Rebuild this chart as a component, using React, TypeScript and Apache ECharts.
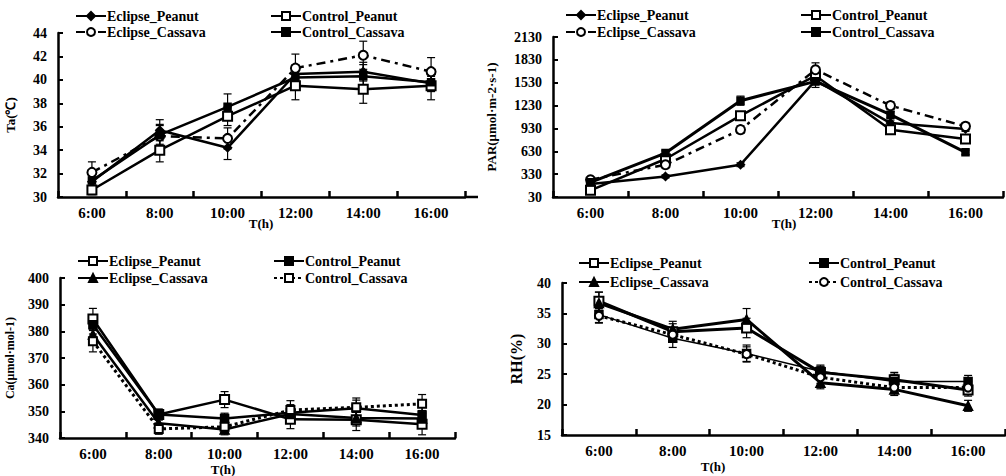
import React, { useEffect, useRef } from 'react';
import * as echarts from 'echarts';

const categories = ['6:00', '8:00', '10:00', '12:00', '14:00', '16:00'];
const seriesNames = ['Eclipse_Peanut', 'Control_Peanut', 'Eclipse_Cassava', 'Control_Cassava'];

// Panel 1: Ta (°C)
const taEclipsePeanut = [31.3, 35.7, 34.2, 40.5, 40.7, 39.7];
const taControlPeanut = [30.6, 34.0, 36.9, 39.5, 39.2, 39.5];
const taEclipseCassava = [32.1, 35.2, 35.0, 41.0, 42.1, 40.7];
const taControlCassava = [31.4, 35.3, 37.7, 40.2, 40.3, 39.8];
const taErrEclipsePeanut = [0.5, 0.9, 1.0, 0.8, 0.8, 0.6];
const taErrControlPeanut = [0.4, 1.0, 0.8, 1.2, 1.2, 1.2];
const taErrEclipseCassava = [0.9, 1.0, 0.9, 1.2, 1.2, 1.2];
const taErrControlCassava = [0.5, 0.8, 1.1, 1.0, 1.0, 0.8];

// Panel 2: PAR
const parEclipsePeanut = [200, 300, 454, 1560, 1000, 922];
const parControlPeanut = [117, 529, 1097, 1622, 914, 791];
const parEclipseCassava = [257, 454, 914, 1701, 1229, 957];
const parControlCassava = [222, 607, 1294, 1548, 1111, 616];
const parErrEclipsePeanut = [20, 20, 25, 60, 40, 30];
const parErrControlPeanut = [20, 30, 50, 80, 40, 40];
const parErrEclipseCassava = [20, 30, 50, 90, 50, 50];
const parErrControlCassava = [20, 30, 60, 80, 40, 30];

// Panel 3: Ca
const caEclipsePeanut = [384.6, 348.8, 354.4, 347.0, 346.8, 345.2];
const caControlPeanut = [382.5, 348.8, 347.3, 349.5, 351.2, 348.6];
const caEclipseCassava = [378.8, 345.5, 343.2, 349.0, 347.5, 347.3];
const caControlCassava = [376.3, 343.4, 344.2, 350.5, 351.5, 352.8];
const caErrEclipsePeanut = [4.0, 2.0, 3.0, 3.5, 4.0, 4.0];
const caErrControlPeanut = [3.5, 2.0, 2.0, 3.0, 3.0, 3.0];
const caErrEclipseCassava = [3.5, 2.0, 2.0, 3.0, 3.0, 3.0];
const caErrControlCassava = [4.0, 2.0, 2.0, 3.5, 3.5, 3.5];

// Panel 4: RH (%)
const rhEclipsePeanut = [37.0, 32.0, 32.6, 25.3, 24.1, 22.4];
const rhControlPeanut = [34.8, 30.9, 28.4, 25.5, 23.8, 23.8];
const rhEclipseCassava = [36.7, 32.4, 34.0, 23.6, 22.5, 19.8];
const rhControlCassava = [34.6, 31.5, 28.3, 24.5, 22.8, 22.8];
const rhErrEclipsePeanut = [1.5, 1.3, 1.6, 1.0, 1.2, 1.0];
const rhErrControlPeanut = [1.3, 1.5, 1.4, 1.0, 1.2, 1.0];
const rhErrEclipseCassava = [1.8, 1.3, 1.8, 1.0, 1.0, 0.9];
const rhErrControlCassava = [1.2, 1.2, 1.2, 1.0, 1.0, 1.0];

// Axis tick settings
const taAxis = { min: 30, max: 44, interval: 2 };
const parAxis = { min: 30, max: 2130, interval: 300 };
const caAxis = { min: 340, max: 400, interval: 10 };
const rhAxis = { min: 15, max: 40, interval: 5 };

const FONT = "'Liberation Serif', 'Times New Roman', serif";

type Sty = { symbol: string; size: number; type: any; width: number };

const panels = [
  {
    values: [taEclipsePeanut, taControlPeanut, taEclipseCassava, taControlCassava],
    errors: [taErrEclipsePeanut, taErrControlPeanut, taErrEclipseCassava, taErrControlCassava],
    axis: taAxis,
    yName: 'Ta(℃)', yNameGap: 41, yNameSize: 13,
    grid: { left: 58, top: 33, width: 407, height: 164 },
    axisExtend: 13,
    legendX: [75, 270], legendY: [17, 33],
    xName: [261, 223],
    styles: [
      { symbol: 'diamond', size: 8, type: 'solid', width: 2.5 },
      { symbol: 'emptyRect', size: 9, type: 'solid', width: 2.5 },
      { symbol: 'emptyCircle', size: 9, type: [9, 5, 3, 5], width: 2.5 },
      { symbol: 'rect', size: 7, type: 'solid', width: 2.5 },
    ] as Sty[],
  },
  {
    values: [parEclipsePeanut, parControlPeanut, parEclipseCassava, parControlCassava],
    errors: [parErrEclipsePeanut, parErrControlPeanut, parErrEclipseCassava, parErrControlCassava],
    axis: parAxis,
    yName: 'PAR(μmol·m-2·s-1)', yNameGap: 55, yNameSize: 13,
    grid: { left: 553, top: 37, width: 450, height: 160 },
    axisExtend: 0,
    legendX: [565, 800], legendY: [16, 33],
    xName: [784, 223],
    styles: [
      { symbol: 'diamond', size: 8, type: 'solid', width: 2.5 },
      { symbol: 'emptyRect', size: 9, type: 'solid', width: 2.5 },
      { symbol: 'emptyCircle', size: 9, type: [9, 5, 3, 5], width: 2.5 },
      { symbol: 'rect', size: 7, type: 'solid', width: 3 },
    ] as Sty[],
  },
  {
    values: [caEclipsePeanut, caControlPeanut, caEclipseCassava, caControlCassava],
    errors: [caErrEclipsePeanut, caErrControlPeanut, caErrEclipseCassava, caErrControlCassava],
    axis: caAxis,
    yName: 'Ca(μmol·mol-1)', yNameGap: 44, yNameSize: 12,
    grid: { left: 60, top: 278, width: 395, height: 160 },
    axisExtend: 0,
    legendX: [77, 273], legendY: [262, 279],
    xName: [223, 469],
    styles: [
      { symbol: 'emptyRect', size: 9, type: 'solid', width: 2.5 },
      { symbol: 'rect', size: 8, type: 'solid', width: 2.5 },
      { symbol: 'triangle', size: 9, type: 'solid', width: 2.5 },
      { symbol: 'emptyRect', size: 8, type: [3, 3], width: 3 },
    ] as Sty[],
  },
  {
    values: [rhEclipsePeanut, rhControlPeanut, rhEclipseCassava, rhControlCassava],
    errors: [rhErrEclipsePeanut, rhErrControlPeanut, rhErrEclipseCassava, rhErrControlCassava],
    axis: rhAxis,
    yName: 'RH(%)', yNameGap: 38, yNameSize: 16,
    grid: { left: 562, top: 283, width: 443, height: 152 },
    axisExtend: 0,
    legendX: [578, 808], legendY: [264, 283],
    xName: [713, 466],
    styles: [
      { symbol: 'emptyRect', size: 9, type: 'solid', width: 3 },
      { symbol: 'rect', size: 8, type: 'solid', width: 1.5 },
      { symbol: 'triangle', size: 9, type: 'solid', width: 3 },
      { symbol: 'emptyCircle', size: 8, type: [3, 3], width: 3 },
    ] as Sty[],
  },
];

function errorRender(params: any, api: any) {
  const x = api.value(0);
  const top = api.coord([x, api.value(2)]);
  const bot = api.coord([x, api.value(1)]);
  const w = 4;
  const style = { stroke: '#000', lineWidth: 1.2 };
  return {
    type: 'group',
    children: [
      { type: 'line', shape: { x1: top[0], y1: top[1], x2: bot[0], y2: bot[1] }, style },
      { type: 'line', shape: { x1: top[0] - w, y1: top[1], x2: top[0] + w, y2: top[1] }, style },
      { type: 'line', shape: { x1: bot[0] - w, y1: bot[1], x2: bot[0] + w, y2: bot[1] }, style },
    ],
  };
}

function buildOption() {
  const grid: any[] = [];
  const xAxis: any[] = [];
  const yAxis: any[] = [];
  const series: any[] = [];
  const legend: any[] = [];
  const graphic: any[] = [];

  panels.forEach((p, k) => {
    grid.push({ ...p.grid, containLabel: false });
    xAxis.push({
      type: 'category',
      gridIndex: k,
      data: categories,
      boundaryGap: true,
      axisLine: { show: true, lineStyle: { color: '#000', width: 2.5 } },
      axisTick: { show: true, inside: true, length: 6, lineStyle: { color: '#000', width: 2.5 } },
      axisLabel: { color: '#000', fontWeight: 'bold', fontSize: 15, fontFamily: FONT, margin: 8 },
      splitLine: { show: false },
    });
    yAxis.push({
      type: 'value',
      gridIndex: k,
      min: p.axis.min,
      max: p.axis.max,
      interval: p.axis.interval,
      name: p.yName,
      nameLocation: 'middle',
      nameRotate: 90,
      nameGap: p.yNameGap,
      nameTextStyle: { color: '#000', fontWeight: 'bold', fontSize: p.yNameSize, fontFamily: FONT },
      axisLine: { show: true, lineStyle: { color: '#000', width: 2.5 } },
      axisTick: { show: true, inside: true, length: 5, lineStyle: { color: '#000', width: 2 } },
      axisLabel: {
        color: '#000',
        fontWeight: 'bold',
        fontSize: 14,
        fontFamily: FONT,
        margin: 11,
        formatter: (v: number) => String(v),
      },
      splitLine: { show: false },
    });

    p.values.forEach((vals, s) => {
      const err = p.errors[s];
      series.push({
        type: 'custom',
        xAxisIndex: k,
        yAxisIndex: k,
        renderItem: errorRender,
        encode: { x: 0, y: [1, 2] },
        data: vals.map((v, i) => [i, v - err[i], v + err[i]]),
        z: 2,
        silent: true,
      });
    });

    p.values.forEach((vals, s) => {
      const st = p.styles[s];
      const name = `${k}|${seriesNames[s]}`;
      series.push({
        type: 'line',
        name,
        xAxisIndex: k,
        yAxisIndex: k,
        data: vals,
        symbol: st.symbol,
        symbolSize: st.size,
        showAllSymbol: true,
        lineStyle: { color: '#000', width: st.width, type: st.type },
        itemStyle: { color: '#000', borderColor: '#000', borderWidth: 1.5 },
        z: 3,
      });
      const col = s % 2;
      const row = Math.floor(s / 2);
      legend.push({
        data: [name],
        left: p.legendX[col],
        top: p.legendY[row] - 8,
        padding: 0,
        itemWidth: 30,
        itemHeight: 10,
        itemGap: 0,
        selectedMode: false,
        formatter: (n: string) => n.split('|')[1],
        textStyle: { color: '#000', fontWeight: 'bold', fontSize: 14, fontFamily: FONT, padding: [0, 0, 0, -4] },
      });
    });

    if (p.axisExtend > 0) {
      const x0 = p.grid.left + p.grid.width;
      const y0 = p.grid.top + p.grid.height;
      graphic.push({
        type: 'line',
        shape: { x1: x0, y1: y0, x2: x0 + p.axisExtend, y2: y0 },
        style: { stroke: '#000', lineWidth: 2.5 },
      });
    }

    graphic.push({
      type: 'text',
      x: p.xName[0],
      y: p.xName[1],
      style: {
        text: 'T(h)',
        font: `bold 13px ${FONT}`,
        fill: '#000',
        textAlign: 'center',
        textVerticalAlign: 'middle',
      },
    });
  });

  return {
    animation: false,
    backgroundColor: '#fff',
    grid,
    xAxis,
    yAxis,
    series,
    legend,
    graphic,
  };
}

export default function App() {
  const ref = useRef<HTMLDivElement>(null);
  useEffect(() => {
    if (!ref.current) return;
    const chart = echarts.init(ref.current, undefined, { renderer: 'svg' });
    chart.setOption(buildOption());
    return () => chart.dispose();
  }, []);
  return (
    <div
      ref={ref}
      style={{ position: 'absolute', left: 0, top: 0, width: 1006, height: 476, background: '#fff' }}
    />
  );
}
